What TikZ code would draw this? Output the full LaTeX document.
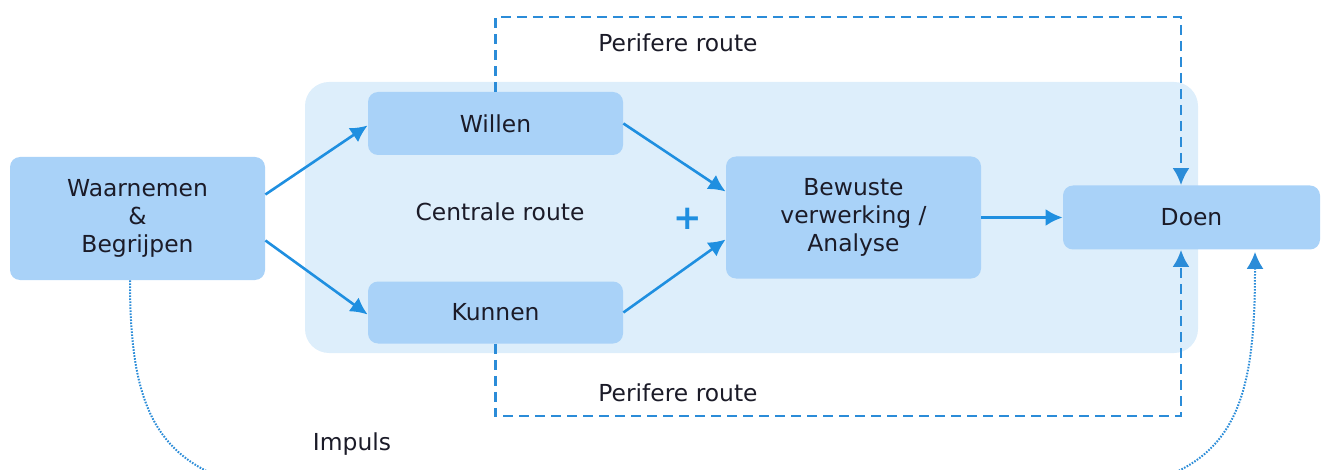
\documentclass[tikz,border=0pt]{standalone}
\usepackage{fontspec}
\setmainfont{DejaVu Sans}
\usetikzlibrary{arrows.meta,positioning}
\definecolor{boxblue}{HTML}{A9D2F8}
\definecolor{bgblue}{HTML}{DDEEFB}
\definecolor{lineblue}{HTML}{1F8FE0}
\definecolor{dashblue}{HTML}{2B8CD8}
\definecolor{txt}{HTML}{1B1B28}
\tikzset{
    stepbox/.style={rectangle,rounded corners=5pt,fill=boxblue,text=txt,
        align=center,minimum width=127.5pt,inner sep=0pt},
    flow/.style={line width=1.3pt,draw=lineblue,-{Latex[length=8.5pt,width=8.5pt]}},
    periph/.style={line width=1.3pt,draw=dashblue,dash pattern=on 5pt off 3pt,
        -{Latex[length=8.5pt,width=8.5pt]}},
    impuls/.style={line width=1pt,draw=dashblue,dash pattern=on 0.8pt off 0.7pt,
        -{Latex[length=8.5pt,width=8.5pt]}},
    lbl/.style={text=txt}
}
\begin{document}
\begin{tikzpicture}[x=0.5pt,y=-0.5pt,font=\fontsize{11.7}{14.2}\selectfont]
    \useasboundingbox (0,0) rectangle (1327,470);
    \clip (0,0) rectangle (1327,470);
    %% central area
    \node[rectangle,rounded corners=12pt,fill=bgblue,minimum width=446.5pt,
        minimum height=135.5pt] (centre) at (751.5,217.5) {};
    \node[lbl] (centrale) at (500,212) {Centrale route};
    %% boxes
    \node[stepbox,minimum height=61.5pt] (waar) at (137.5,218.5) {Waarnemen\\\&\\Begrijpen};
    \node[stepbox,minimum height=31.5pt] (willen) at (495.5,123.5) {Willen};
    \node[stepbox,minimum height=31pt] (kunnen) at (495.5,312.5) {Kunnen};
    \node[stepbox,minimum height=61pt] (bewust) at (853.5,217.5) {Bewuste\\verwerking /\\Analyse};
    \node[stepbox,minimum width=128.5pt,minimum height=32pt] (doen) at (1191.5,217.5) {Doen};
    \node[text=lineblue,font=\fontsize{17}{17}\selectfont\bfseries] (plus) at (688,219) {+};
    %% arrows
    \draw[flow] ([yshift=12pt]waar.east) -- ([yshift=-1pt]willen.west);
    \draw[flow] ([yshift=-11pt]waar.east) -- ([yshift=-1pt]kunnen.west);
    \draw[flow] (willen.east) -- ([yshift=13pt]bewust.west);
    \draw[flow] (kunnen.east) -- ([yshift=-11pt]bewust.west);
    \draw[flow] (bewust.east) -- (doen.west);
    %% peripheral routes
    \coordinate (ptop) at (1181,17);
    \coordinate (pbot) at (1181,416);
    \draw[periph] (willen.north) |- (ptop) -- (ptop |- doen.north);
    \draw[periph] (kunnen.south) |- (pbot) -- (pbot |- doen.south);
    \node[lbl] (pertop) at (678,43) {Perifere route};
    \node[lbl] (perbot) at (678,393) {Perifere route};
    %% impulse
    \draw[impuls] ([xshift=-3.75pt]waar.south) .. controls (130,420) and (160,480) .. (300,495)
        -- (1080,495) .. controls (1230,480) and (1255,420) .. ([xshift=31.75pt,yshift=-1pt]doen.south);
    \node[lbl] (imp) at (352,444) {Impuls};
\end{tikzpicture}
\end{document}
